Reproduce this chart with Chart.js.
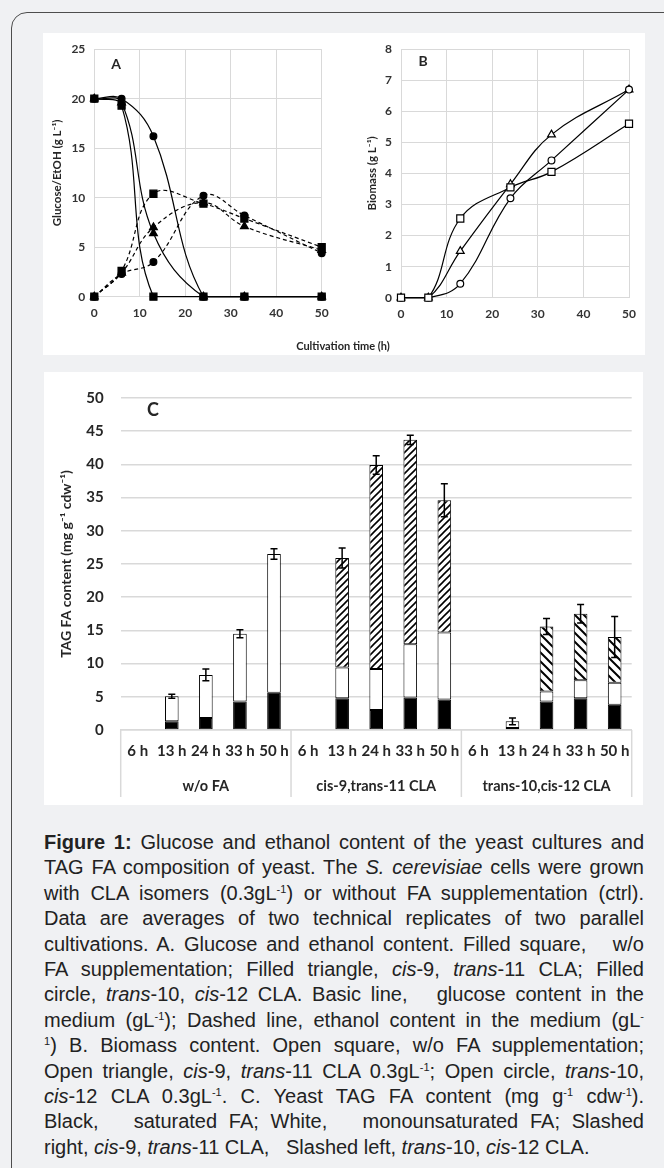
<!DOCTYPE html>
<html>
<head>
<meta charset="utf-8">
<script src="https://cdn.jsdelivr.net/npm/chart.js@4.4.1/dist/chart.umd.min.js"></script>
<style>
body { margin:0; background:#f0f1f3; width:664px; height:1168px; overflow:hidden; position:relative; font-family:Lato, sans-serif; }
#frame { position:absolute; left:11px; top:12px; width:720px; height:1180px; border:1.5px solid #4d4d4d; border-radius:16px; box-sizing:border-box; }
.panel { position:absolute; background:#fff; }
#top { left:43px; top:33px; width:602px; height:322px; }
#bottom { left:44px; top:372px; width:599px; height:433px; }
canvas { position:absolute; top:0; }
.lbl { position:absolute; font-weight:bold; color:#262626; transform:translate(-50%, -50%); white-space:nowrap; }
#caption { position:absolute; left:44px; top:830px; width:600px; font-family:"Liberation Sans", Arial, sans-serif; font-size:20px; line-height:25.4px; color:#222; }
#caption div { text-align:justify; text-align-last:justify; }
#caption div.last { text-align-last:left; }
#caption sup { font-size:11px; line-height:0; vertical-align:7px; }
</style>
</head>
<body>
<div id="frame"></div>
<div class="panel" id="top">
  <canvas id="chartA" width="312" height="322" style="left:0"></canvas>
  <canvas id="chartB" width="290" height="322" style="left:312px"></canvas>
</div>
<div class="panel" id="bottom">
  <canvas id="chartC" width="599" height="433" style="left:0"></canvas>
</div>
<div class="lbl" style="left:116px; top:63px; font-size:14px;">A</div>
<div class="lbl" style="left:423px; top:60px; font-size:14px;">B</div>
<div class="lbl" style="left:153px; top:409px; font-size:18px;">C</div>
<div class="lbl" style="left:343px; top:345px; font-size:11px;">Cultivation time (h)</div>

<div id="caption">
<div><b>Figure 1:</b> Glucose and ethanol content of the yeast cultures and</div>
<div>TAG FA composition of yeast. The <i>S. cerevisiae</i> cells were grown</div>
<div>with CLA isomers (0.3gL<sup>-1</sup>) or without FA supplementation (ctrl).</div>
<div>Data are averages of two technical replicates of two parallel</div>
<div>cultivations. A. Glucose and ethanol content. Filled square, &nbsp; w/o</div>
<div>FA supplementation; Filled triangle, <i>cis</i>-9, <i>trans</i>-11 CLA; Filled</div>
<div>circle, <i>trans</i>-10, <i>cis</i>-12 CLA. Basic line, &nbsp; glucose content in the</div>
<div>medium (gL<sup>-1</sup>); Dashed line, ethanol content in the medium (gL<sup>-</sup></div>
<div><sup>1</sup>) B. Biomass content. Open square, w/o FA supplementation;</div>
<div>Open triangle, <i>cis</i>-9, <i>trans</i>-11 CLA 0.3gL<sup>-1</sup>; Open circle, <i>trans</i>-10,</div>
<div><i>cis</i>-12 CLA 0.3gL<sup>-1</sup>. C. Yeast TAG FA content (mg g<sup>-1</sup> cdw<sup>-1</sup>).</div>
<div>Black, &nbsp; saturated FA; White, &nbsp; monounsaturated FA; Slashed</div>
<div class="last">right, <i>cis</i>-9, <i>trans</i>-11 CLA, &nbsp; Slashed left, <i>trans</i>-10, <i>cis</i>-12 CLA.</div>
</div>

<script>
// sampling times (h)
const times = [0, 6, 13, 24, 33, 50];

// A: glucose (solid) and ethanol (dashed), g/L
const glucoseNoFA   = [20, 19.3, 0, 0, 0, 0];
const glucoseC9T11  = [20, 19.6, 6.4, 0, 0, 0];
const glucoseT10C12 = [20, 20, 16.2, 0, 0, 0];
const ethanolNoFA   = [0, 2.6, 10.4, 9.4, 7.9, 5.0];
const ethanolC9T11  = [0, 2.4, 7.0, 9.5, 7.1, 4.7];
const ethanolT10C12 = [0, 2.3, 3.5, 10.2, 8.2, 4.4];

// B: biomass, g/L
const biomassNoFA   = [0, 0, 2.55, 3.55, 4.05, 5.6];
const biomassC9T11  = [0, 0, 1.5, 3.65, 5.25, 6.7];
const biomassT10C12 = [0, 0, 0.45, 3.2, 4.42, 6.7];

// C: TAG FA content, mg/g cdw (segment heights)
const groups = ['w/o FA', 'cis-9,trans-11 CLA', 'trans-10,cis-12 CLA'];
const hours = ['6 h', '13 h', '24 h', '33 h', '50 h'];
const saturated = [0, 1.3, 1.8, 4.3, 5.6,   0, 4.8, 3.0, 4.9, 4.6,    0, 0.3, 4.3, 4.8, 3.8];
const monounsat = [0, 3.8, 6.5, 10.2, 20.9, 0, 4.6, 6.2, 8.0, 10.1,   0, 1.0, 1.5, 2.7, 3.3];
const cla9      = [0, 0, 0, 0, 0,           0, 16.5, 30.7, 30.8, 19.9, 0, 0, 0, 0, 0];
const cla10     = [0, 0, 0, 0, 0,           0, 0, 0, 0, 0,            0, 0, 9.8, 10.0, 6.9];
const errors    = [0, 0.3, 0.9, 0.6, 0.8,   0, 1.5, 1.4, 0.7, 2.5,    0, 0.5, 1.2, 1.4, 3.1];

const GRID = '#d9d9d9';
const TXT = '#333';
const bold = (size) => ({ family: 'Lato', weight: 'bold', size: size });

function lineSeries(vals, style, dashed, open) {
    let r = style === 'rect' ? 5 : (style === 'triangle' ? 4.5 : 3.4);
    return {
        data: times.map((t, i) => ({ x: t, y: vals[i] })),
        borderColor: '#000',
        borderWidth: 1.2,
        borderDash: dashed ? [4, 3] : [],
        pointStyle: style,
        pointRadius: r,
        pointBackgroundColor: open ? '#fff' : '#000',
        pointBorderColor: '#000',
        pointBorderWidth: 1.2,
        tension: 0.4,
        fill: false,
        clip: false
    };
}

function lineOptions(yMax, yStep, yTitle, pad, yWidth, xHeight, titlePad) {
    return {
        responsive: false,
        animation: false,
        events: [],
        layout: { padding: pad, autoPadding: false },
        plugins: { legend: { display: false }, tooltip: { enabled: false } },
        scales: {
            x: {
                type: 'linear', min: 0, max: 50,
                ticks: { stepSize: 10, font: bold(12), color: TXT, padding: 9 },
                grid: { color: GRID, drawTicks: false },
                border: { color: GRID },
                afterFit: (a) => { a.height = xHeight; }
            },
            y: {
                min: 0, max: yMax,
                ticks: { stepSize: yStep, font: bold(12), color: TXT, padding: 9 },
                grid: { color: GRID, drawTicks: false },
                border: { color: GRID },
                title: { display: true, text: yTitle, font: bold(11.5), color: '#262626', padding: { top: titlePad, bottom: 0 } },
                afterFit: (a) => { a.width = yWidth; }
            }
        }
    };
}

new Chart(document.getElementById('chartA'), {
    type: 'line',
    data: {
        datasets: [
            lineSeries(glucoseNoFA, 'rect', false, false),
            lineSeries(ethanolNoFA, 'rect', true, false),
            lineSeries(glucoseC9T11, 'triangle', false, false),
            lineSeries(ethanolC9T11, 'triangle', true, false),
            lineSeries(glucoseT10C12, 'circle', false, false),
            lineSeries(ethanolT10C12, 'circle', true, false)
        ]
    },
    options: lineOptions(25, 5, 'Glucose/EtOH (g L⁻¹)', { top: 12, right: 33.3, bottom: 0, left: 0 }, 51.3, 58.3, 7)
});

new Chart(document.getElementById('chartB'), {
    type: 'line',
    data: {
        datasets: [
            lineSeries(biomassNoFA, 'rect', false, true),
            lineSeries(biomassT10C12, 'circle', false, true),
            lineSeries(biomassC9T11, 'triangle', false, true)
        ]
    },
    options: lineOptions(8, 1, 'Biomass (g L⁻¹)', { top: 11, right: 16, bottom: 0, left: 0 }, 46, 57.3, 10)
});

// hatch fills for the CLA segments
function hatch(size, width, leftLean) {
    const c = document.createElement('canvas');
    c.width = size; c.height = size;
    const g = c.getContext('2d');
    g.fillStyle = '#fff';
    g.fillRect(0, 0, size, size);
    g.strokeStyle = '#000';
    g.lineWidth = width;
    g.beginPath();
    if (!leftLean) {
        g.moveTo(0, size); g.lineTo(size, 0);
        g.moveTo(-2, 2); g.lineTo(2, -2);
        g.moveTo(size - 2, size + 2); g.lineTo(size + 2, size - 2);
    } else {
        g.moveTo(0, 0); g.lineTo(size, size);
        g.moveTo(-2, size - 2); g.lineTo(2, size + 2);
        g.moveTo(size - 2, -2); g.lineTo(size + 2, 2);
    }
    g.stroke();
    return g.createPattern(c, 'repeat');
}

const errorBars = {
    id: 'errorBars',
    afterDatasetsDraw(chart) {
        const { ctx, scales: { x, y } } = chart;
        ctx.save();
        ctx.strokeStyle = '#000';
        ctx.lineWidth = 1.5;
        for (let i = 0; i < errors.length; i++) {
            const total = saturated[i] + monounsat[i] + cla9[i] + cla10[i];
            if (!total) continue;
            const px = x.getPixelForValue(i);
            const hi = y.getPixelForValue(total + errors[i]);
            const lo = y.getPixelForValue(total - errors[i]);
            ctx.beginPath();
            ctx.moveTo(px, hi); ctx.lineTo(px, lo);
            ctx.moveTo(px - 3.5, hi); ctx.lineTo(px + 3.5, hi);
            ctx.moveTo(px - 3.5, lo); ctx.lineTo(px + 3.5, lo);
            ctx.stroke();
        }
        ctx.restore();
    }
};

const groupAxis = {
    id: 'groupAxis',
    afterDraw(chart) {
        const { ctx, scales: { x } } = chart;
        const step = x.getPixelForValue(1) - x.getPixelForValue(0);
        ctx.save();
        ctx.strokeStyle = GRID;
        ctx.lineWidth = 1.5;
        for (let g = 0; g <= groups.length; g++) {
            const px = x.getPixelForValue(g * hours.length) - step / 2;
            ctx.beginPath();
            ctx.moveTo(px, x.top);
            ctx.lineTo(px, chart.height - 8);
            ctx.stroke();
        }
        ctx.fillStyle = '#262626';
        ctx.font = 'bold 14.5px Lato';
        ctx.textAlign = 'center';
        ctx.textBaseline = 'middle';
        groups.forEach((name, g) => {
            ctx.fillText(name, x.getPixelForValue(g * hours.length + 2), x.top + 56);
        });
        ctx.restore();
    }
};

const barSet = (label, vals, fill) => ({
    label: label,
    data: vals.map(v => v || null),
    backgroundColor: fill,
    borderColor: '#000',
    borderWidth: 1,
    borderSkipped: false,
    barPercentage: 0.4,
    categoryPercentage: 1
});

new Chart(document.getElementById('chartC'), {
    type: 'bar',
    data: {
        labels: groups.flatMap(() => hours),
        datasets: [
            barSet('Saturated FA', saturated, '#000'),
            barSet('Monounsaturated FA', monounsat, '#fff'),
            barSet('cis-9,trans-11 CLA', cla9, hatch(7, 1.6, false)),
            barSet('trans-10,cis-12 CLA', cla10, hatch(9, 2, true))
        ]
    },
    options: {
        responsive: false,
        animation: false,
        events: [],
        layout: { padding: { top: 18.7, right: 11.3, bottom: 0, left: 0 }, autoPadding: false },
        plugins: { legend: { display: false }, tooltip: { enabled: false } },
        scales: {
            x: {
                stacked: true,
                ticks: { font: bold(15), color: '#262626', padding: 12, maxRotation: 0, autoSkip: false },
                grid: { display: false, drawTicks: false },
                border: { color: GRID, width: 1.5 },
                afterFit: (a) => { a.height = 75; }
            },
            y: {
                stacked: true, min: 0, max: 50,
                ticks: { stepSize: 5, font: bold(15), color: '#262626', padding: 17 },
                grid: { color: GRID, lineWidth: 1.5, drawTicks: false },
                border: { display: false },
                title: { display: true, text: 'TAG FA content (mg g⁻¹ cdw⁻¹)', font: bold(14), color: '#262626', padding: { top: 14.3, bottom: 0 } },
                afterFit: (a) => { a.width = 76.7; }
            }
        }
    },
    plugins: [errorBars, groupAxis]
});
</script>
</body>
</html>
